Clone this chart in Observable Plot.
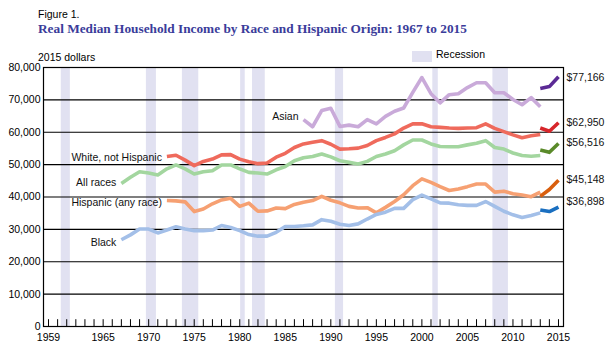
<!DOCTYPE html>
<html>
<head>
<meta charset="utf-8">
<script src="https://cdn.jsdelivr.net/npm/d3@7"></script>
<script src="https://cdn.jsdelivr.net/npm/@observablehq/plot@0.6"></script>
<style>
  html, body { margin: 0; padding: 0; background: #fff; }
  #wrap { position: relative; width: 616px; height: 351px; font-family: "Liberation Sans", Arial, sans-serif; }
  #wrap svg { position: absolute; left: 0; top: 0; }
  .t { position: absolute; white-space: nowrap; line-height: 1; }
  .small { font-size: 10.5px; color: #000; }
  .title { font-family: "Liberation Serif", serif; font-weight: bold; font-size: 13.3px; color: #3a3c9a; }
  .swatch { position: absolute; background: #e1e1f1; }
</style>
</head>
<body>
<div id="wrap">
  <div class="t small" style="left:38px; top:9px;">Figure 1.</div>
  <div class="t title" style="left:38px; top:22px;">Real Median Household Income by Race and Hispanic Origin: 1967 to 2015</div>
  <div class="t small" style="left:38px; top:52px;">2015 dollars</div>
  <div class="swatch" style="left:412px; top:51px; width:20px; height:11px;"></div>
  <div class="t small" style="left:436px; top:49px;">Recession</div>
</div>
<script>
// ---- data (2015 dollars) ----
const recessionStart = [1960.4, 1969.75, 1973.7, 1980.1, 1981.4, 1990.5, 2001.2, 2007.8];
const recessionEnd   = [1961.4, 1970.85, 1975.5, 1980.6, 1982.8, 1991.4, 2001.8, 2009.5];

const xTickLabels = [1959, 1965, 1970, 1975, 1980, 1985, 1990, 1995, 2000, 2005, 2010, 2015];
const yTicks = [0, 10000, 20000, 30000, 40000, 50000, 60000, 70000, 80000];

// Older estimates (light lines) run to 2013; redesigned estimates (dark lines) 2013-2015
const allRacesStart = 1967;
const allRacesValues = [44200,46100,47800,47400,46800,48700,49900,48700,47100,47800,
  48100,49900,49900,48700,47600,47400,47100,48400,49400,51200,
  52100,52500,53300,52400,51200,50700,50200,51000,52500,53300,
  54300,56100,57600,57600,56400,55600,55500,55500,56100,56600,
  57400,55300,54800,53600,52800,52600,52800];
const allRacesNew = [54500, 53800, 56516];

const whiteStart = 1972;
const whiteValues = [52500,52900,51400,49700,51000,51700,53000,53100,51700,50900,
  50300,50500,52300,53500,55300,56400,56900,57400,56300,54800,
  54900,55100,55900,57400,58400,59500,61300,62600,62600,61700,
  61500,61300,61200,61300,61400,62600,61200,60200,59200,58300,
  58900,59300];
const whiteNew = [61300, 60300, 62950];

const hispanicStart = 1972;
const hispanicValues = [38900,38800,38500,35500,36300,37900,39100,39600,37100,38100,
  35600,35700,36600,36400,37700,38400,38900,40200,39000,38200,
  37100,36600,36700,35100,36800,38600,40700,43500,45600,44500,
  43200,42000,42500,43200,44000,44000,41500,41800,41000,40600,
  40100,41500];
const hispanicNew = [40200, 42300, 45148];

const blackStart = 1967;
const blackValues = [26800,28300,30100,30100,28900,29800,30800,30100,29600,29600,
  29800,31200,30600,29600,28400,27900,27900,29100,30900,30900,
  31100,31400,33000,32500,31600,31200,31700,33200,34600,35300,
  36500,36500,39200,40600,39400,38200,38100,37600,37400,37400,
  38600,37100,35600,34500,33700,34300,35100];
const blackNew = [36000, 35500, 36898];

const asianStart = 1987;
const asianValues = [63900,61700,66700,67400,61800,62200,61700,63900,62600,64900,
  66500,67500,72300,76900,71900,69100,71600,71900,73800,75300,
  75300,72200,72200,70100,68500,70700,67900];
const asianNew = [73500, 74100, 77166];

const newStart = 2013;
const firstYear = 1959, lastYear = 2015;

// ---- build tables ----
const toRows = (start, vals) => vals.map((v, i) => ({year: start + i, value: v}));
const recessions = recessionStart.map((s, i) => ({start: s, end: recessionEnd[i]}));
const yearTicks = d3.range(firstYear, lastYear + 1);

const allRaces = toRows(allRacesStart, allRacesValues), allRacesN = toRows(newStart, allRacesNew);
const white = toRows(whiteStart, whiteValues), whiteN = toRows(newStart, whiteNew);
const hispanic = toRows(hispanicStart, hispanicValues), hispanicN = toRows(newStart, hispanicNew);
const black = toRows(blackStart, blackValues), blackN = toRows(newStart, blackNew);
const asian = toRows(asianStart, asianValues), asianN = toRows(newStart, asianNew);

const fmt = d3.format(",");
const lw = 3.6;
const line = (rows, color) => Plot.line(rows, {x: "year", y: "value", stroke: color, strokeWidth: lw, strokeLinejoin: "round", strokeLinecap: "butt"});
const startLabel = (rows, label, dy) => Plot.text([rows[0]], {x: "year", y: "value", text: () => label, textAnchor: "end", dx: -5, dy, fill: "#111"});
const endLabel = (rows, dy) => Plot.text([rows[rows.length - 1]], {x: "year", y: "value", text: d => "$" + fmt(d.value), textAnchor: "start", dx: 8, dy, fill: "#111"});

const chart = Plot.plot({
  width: 616,
  height: 351,
  marginTop: 67,
  marginLeft: 43,
  marginRight: 53,
  marginBottom: 25,
  x: {domain: [1958.45, 2015.55]},
  y: {domain: [0, 80000]},
  style: {fontFamily: "'Liberation Sans', Arial, sans-serif", fontSize: "10.5px", color: "#000", background: "transparent", overflow: "visible"},
  marks: [
    Plot.rect(recessions, {x1: "start", x2: "end", fill: "#e1e1f1"}),
    Plot.ruleY(yTicks, {stroke: "#000", strokeWidth: 1.2}),
    Plot.frame({stroke: "#000", strokeWidth: 1.2}),
    Plot.ruleX(yearTicks, {y1: 0, y2: 2100, stroke: "#000", strokeWidth: 1}),
    Plot.axisY(yTicks, {tickSize: 0, tickPadding: 3, tickFormat: fmt, label: null}),
    Plot.axisX(xTickLabels, {tickSize: 0, tickPadding: 7, tickFormat: d => String(d), label: null}),
    line(asian, "#c9aad9"), line(asianN, "#5b2a95"),
    line(white, "#ef6a5c"), line(whiteN, "#d7262b"),
    line(allRaces, "#a3d69f"), line(allRacesN, "#5a8a2a"),
    line(hispanic, "#f6a072"), line(hispanicN, "#d95f0e"),
    line(black, "#a3bfe8"), line(blackN, "#1a6fc0"),
    startLabel(asian, "Asian", -3),
    startLabel(white, "White, not Hispanic", 1),
    startLabel(allRaces, "All races", -1),
    startLabel(hispanic, "Hispanic (any race)", 2),
    startLabel(black, "Black", 3),
    endLabel(asianN, 1),
    endLabel(whiteN, 0),
    endLabel(allRacesN, -1),
    endLabel(hispanicN, -1),
    endLabel(blackN, -5)
  ]
});
document.getElementById("wrap").prepend(chart);
</script>
</body>
</html>
